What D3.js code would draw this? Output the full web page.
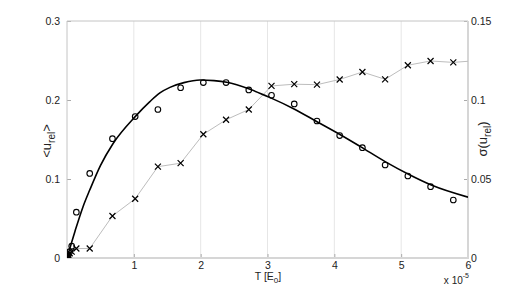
<!DOCTYPE html>
<html>
<head>
<meta charset="utf-8">
<script src="https://cdn.jsdelivr.net/npm/d3@7"></script>
<style>
  body { margin: 0; background: #fff; }
  text { font-family: "Liberation Sans", Arial, sans-serif; fill: #222; }
</style>
</head>
<body>
<div id="container"></div>
<script>
// Measured temperatures (units of 1e-5 E0)
const T = [0, 0.01, 0.02, 0.04, 0.07, 0.14, 0.34, 0.68, 1.02, 1.36, 1.70, 2.04, 2.38, 2.72,
           3.06, 3.40, 3.74, 4.08, 4.42, 4.76, 5.10, 5.44, 5.78, 6.12];
// <u_rel> (left axis, circles)
const meanU = [0, 0.002, 0.004, 0.008, 0.015, 0.058, 0.107, 0.151, 0.179, 0.188, 0.2155, 0.222, 0.222, 0.2127,
               0.206, 0.195, 0.1734, 0.155, 0.1397, 0.1177, 0.1038, 0.0903, 0.0734, 0.066];
// sigma(u_rel) (right axis, crosses)
const sigmaU = [0, 0.001, 0.002, 0.003, 0.004, 0.006, 0.006, 0.0266, 0.0375, 0.0578, 0.060, 0.0783, 0.0875, 0.094,
                0.1089, 0.110, 0.1097, 0.113, 0.1177, 0.1131, 0.122, 0.1247, 0.1238, 0.1249];
// fitted curve for <u_rel>
const fitT = [0, 0.12, 0.24, 0.34, 0.5, 0.69, 1.02, 1.24, 1.39, 1.54, 1.75, 1.99, 2.2, 2.39, 2.74,
              3.04, 3.39, 3.74, 4.09, 4.39, 4.76, 5.11, 5.46, 6.0];
const fitU = [0, 0.034, 0.065, 0.086, 0.117, 0.145, 0.179, 0.198, 0.209, 0.216, 0.222, 0.2253, 0.2245, 0.2224, 0.2135,
              0.203, 0.189, 0.1725, 0.156, 0.141, 0.122, 0.106, 0.092, 0.077];

const xTicks = [1, 2, 3, 4, 5, 6];
const leftTicks = [0, 0.1, 0.2, 0.3];
const rightTicks = [0, 0.05, 0.1, 0.15];

// Dimensions and margins
const margin = { top: 21, right: 49, bottom: 33, left: 67 };
const width = 517 - margin.left - margin.right;
const height = 291 - margin.top - margin.bottom;

const svg = d3.select("#container")
    .append("svg")
    .attr("width", 517)
    .attr("height", 291)
    .append("g")
    .attr("transform", `translate(${margin.left},${margin.top})`);

// Scales
const x = d3.scaleLinear().domain([0, 6]).range([0, width]);
const yL = d3.scaleLinear().domain([0, 0.3]).range([height, 0]);
const yR = d3.scaleLinear().domain([0, 0.15]).range([height, 0]);

svg.append("clipPath").attr("id", "clip")
    .append("rect").attr("width", width).attr("height", height);

// Vertical grid
svg.append("g")
    .selectAll("line")
    .data(xTicks.slice(0, -1))
    .enter().append("line")
    .attr("x1", d => x(d)).attr("x2", d => x(d))
    .attr("y1", 0).attr("y2", height)
    .attr("stroke", "#e6e6e6");

// Axes (ticks point inwards)
const styleAxis = g => {
    g.select(".domain").remove();
    g.selectAll(".tick line").attr("stroke", "#aaa");
    g.selectAll(".tick text").attr("font-size", 10.5).attr("fill", "#222");
};

svg.append("g")
    .attr("transform", `translate(0,${height})`)
    .call(d3.axisBottom(x).tickValues(xTicks).tickSizeInner(-4).tickSizeOuter(0).tickPadding(3.5).tickFormat(d3.format("d")))
    .call(styleAxis);

svg.append("g")
    .call(d3.axisLeft(yL).tickValues(leftTicks).tickSizeInner(-4).tickSizeOuter(0).tickPadding(7)
        .tickFormat(d => d === 0 ? "0" : d3.format(".1f")(d)))
    .call(styleAxis);

svg.append("g")
    .attr("transform", `translate(${width},0)`)
    .call(d3.axisRight(yR).tickValues(rightTicks).tickSizeInner(-4).tickSizeOuter(0).tickPadding(3)
        .tickFormat(d => String(d)))
    .call(styleAxis);

// Box
svg.append("line").attr("x1", 0).attr("x2", width).attr("y1", 0).attr("y2", 0).attr("stroke", "#c4c4c4");
svg.append("line").attr("x1", 0).attr("x2", 0).attr("y1", 0).attr("y2", height).attr("stroke", "#c4c4c4");
svg.append("line").attr("x1", 0).attr("x2", width + 1).attr("y1", height).attr("y2", height).attr("stroke", "#d6d6d6").attr("stroke-width", 2);
svg.append("line").attr("x1", width).attr("x2", width).attr("y1", 0).attr("y2", height).attr("stroke", "#d6d6d6").attr("stroke-width", 2);

const plot = svg.append("g").attr("clip-path", "url(#clip)");

// sigma line + crosses
const sigmaData = T.map((t, i) => ({ t, v: sigmaU[i] }));
plot.append("path")
    .datum(sigmaData)
    .attr("fill", "none")
    .attr("stroke", "#bdbdbd")
    .attr("stroke-width", 1)
    .attr("d", d3.line().x(d => x(d.t)).y(d => yR(d.v)));

plot.selectAll(".cross")
    .data(sigmaData)
    .enter().append("path")
    .attr("class", "cross")
    .attr("transform", d => `translate(${x(d.t)},${yR(d.v)})`)
    .attr("d", "M-3,-3L3,3M-3,3L3,-3")
    .attr("stroke", "#000")
    .attr("stroke-width", 1.2);

// fitted curve
plot.append("path")
    .datum(fitT.map((t, i) => ({ t, v: fitU[i] })))
    .attr("fill", "none")
    .attr("stroke", "#000")
    .attr("stroke-width", 1.6)
    .attr("d", d3.line().x(d => x(d.t)).y(d => yL(d.v)).curve(d3.curveMonotoneX));

// mean circles
plot.selectAll(".circ")
    .data(T.map((t, i) => ({ t, v: meanU[i] })))
    .enter().append("circle")
    .attr("class", "circ")
    .attr("cx", d => x(d.t))
    .attr("cy", d => yL(d.v))
    .attr("r", 2.8)
    .attr("fill", "none")
    .attr("stroke", "#000")
    .attr("stroke-width", 1.1);

// Labels
const xl = svg.append("text")
    .attr("x", x(3) + 0.5).attr("y", height + 21.5)
    .attr("text-anchor", "middle").attr("font-size", 10.5);
xl.append("tspan").text("T [E");
xl.append("tspan").attr("font-size", 8).attr("dy", 3).text("0");
xl.append("tspan").attr("dy", -3).text("]");

const sc = svg.append("text")
    .attr("x", width + 1).attr("y", height + 26)
    .attr("text-anchor", "end").attr("font-size", 10);
sc.append("tspan").text("x 10");
sc.append("tspan").attr("font-size", 7).attr("dy", -6).text("-5");

const yl = svg.append("text")
    .attr("transform", `translate(${51 - margin.left},${141 - margin.top}) rotate(-90)`)
    .attr("text-anchor", "middle").attr("font-size", 13);
yl.append("tspan").text("<u");
yl.append("tspan").attr("font-size", 10).attr("dy", 4).text("rel");
yl.append("tspan").attr("dy", -4).text(">");

const yr = svg.append("text")
    .attr("transform", `translate(${487 - margin.left},${139 - margin.top}) rotate(-90)`)
    .attr("text-anchor", "middle").attr("font-size", 13);
yr.append("tspan").text("σ(u");
yr.append("tspan").attr("font-size", 10).attr("dy", 4).text("rel");
yr.append("tspan").attr("dy", -4).text(")");
</script>
</body>
</html>
